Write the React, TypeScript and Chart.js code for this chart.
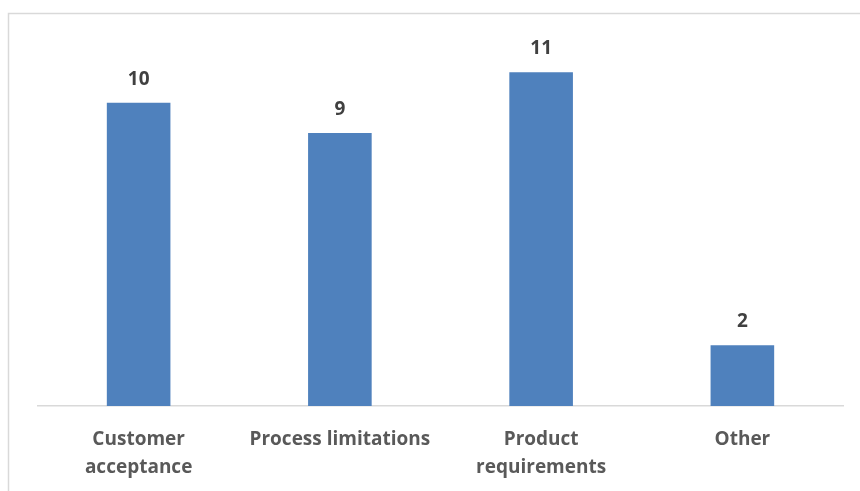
import React, { useEffect, useRef } from "react";
import { Chart, registerables } from "chart.js";

Chart.register(...registerables);

const categories: (string | string[])[] = [
  ["Customer", "acceptance"],
  "Process limitations",
  ["Product", "requirements"],
  "Other",
];
const values: number[] = [10, 9, 11, 2];

const FONT = "'Open Sans', 'DejaVu Sans', sans-serif";

const frame = {
  id: "frame",
  beforeDraw(chart: any) {
    const ctx = chart.ctx;
    ctx.save();
    ctx.strokeStyle = "#d9d9d9";
    ctx.lineWidth = 1.5;
    ctx.beginPath();
    ctx.moveTo(8.5, chart.height);
    ctx.lineTo(8.5, 13.5);
    ctx.lineTo(chart.width, 13.5);
    ctx.stroke();
    ctx.restore();
  },
};

const valueLabels = {
  id: "valueLabels",
  afterDatasetsDraw(chart: any) {
    const ctx = chart.ctx;
    const meta = chart.getDatasetMeta(0);
    ctx.save();
    ctx.font = `bold 19px ${FONT}`;
    ctx.fillStyle = "#404040";
    ctx.textAlign = "center";
    ctx.textBaseline = "alphabetic";
    meta.data.forEach((bar: any, i: number) => {
      ctx.fillText(String(values[i]), bar.x, bar.y - 18);
    });
    ctx.restore();
  },
};

export default function App() {
  const ref = useRef<HTMLCanvasElement | null>(null);
  useEffect(() => {
    document.body.style.margin = "0";
    const chart = new Chart(ref.current!, {
      type: "bar",
      data: {
        labels: categories,
        datasets: [
          {
            data: values,
            backgroundColor: "#4f81bd",
            barPercentage: 0.316,
            categoryPercentage: 1,
          },
        ],
      },
      options: {
        animation: false,
        responsive: false,
        layout: { padding: { left: 38, right: 17, top: 42, bottom: 0 } },
        plugins: { legend: { display: false }, tooltip: { enabled: false } },
        scales: {
          x: {
            grid: { display: false, drawTicks: false },
            border: { display: true, color: "#d9d9d9", width: 1.5 },
            ticks: {
              color: "#595959",
              font: { family: FONT, size: 19, weight: "bold", lineHeight: 1.47 },
              padding: 20,
              maxRotation: 0,
              autoSkip: false,
            },
            afterFit(scale: any) {
              scale.height = 85;
            },
          },
          y: {
            display: false,
            min: 0,
            max: 12,
          },
        },
      },
      plugins: [frame, valueLabels],
    });
    return () => chart.destroy();
  }, []);
  return (
    <div style={{ position: "absolute", left: 0, top: 0, width: 860, height: 491, background: "#fff" }}>
      <canvas ref={ref} width={860} height={491} style={{ display: "block" }} />
    </div>
  );
}
